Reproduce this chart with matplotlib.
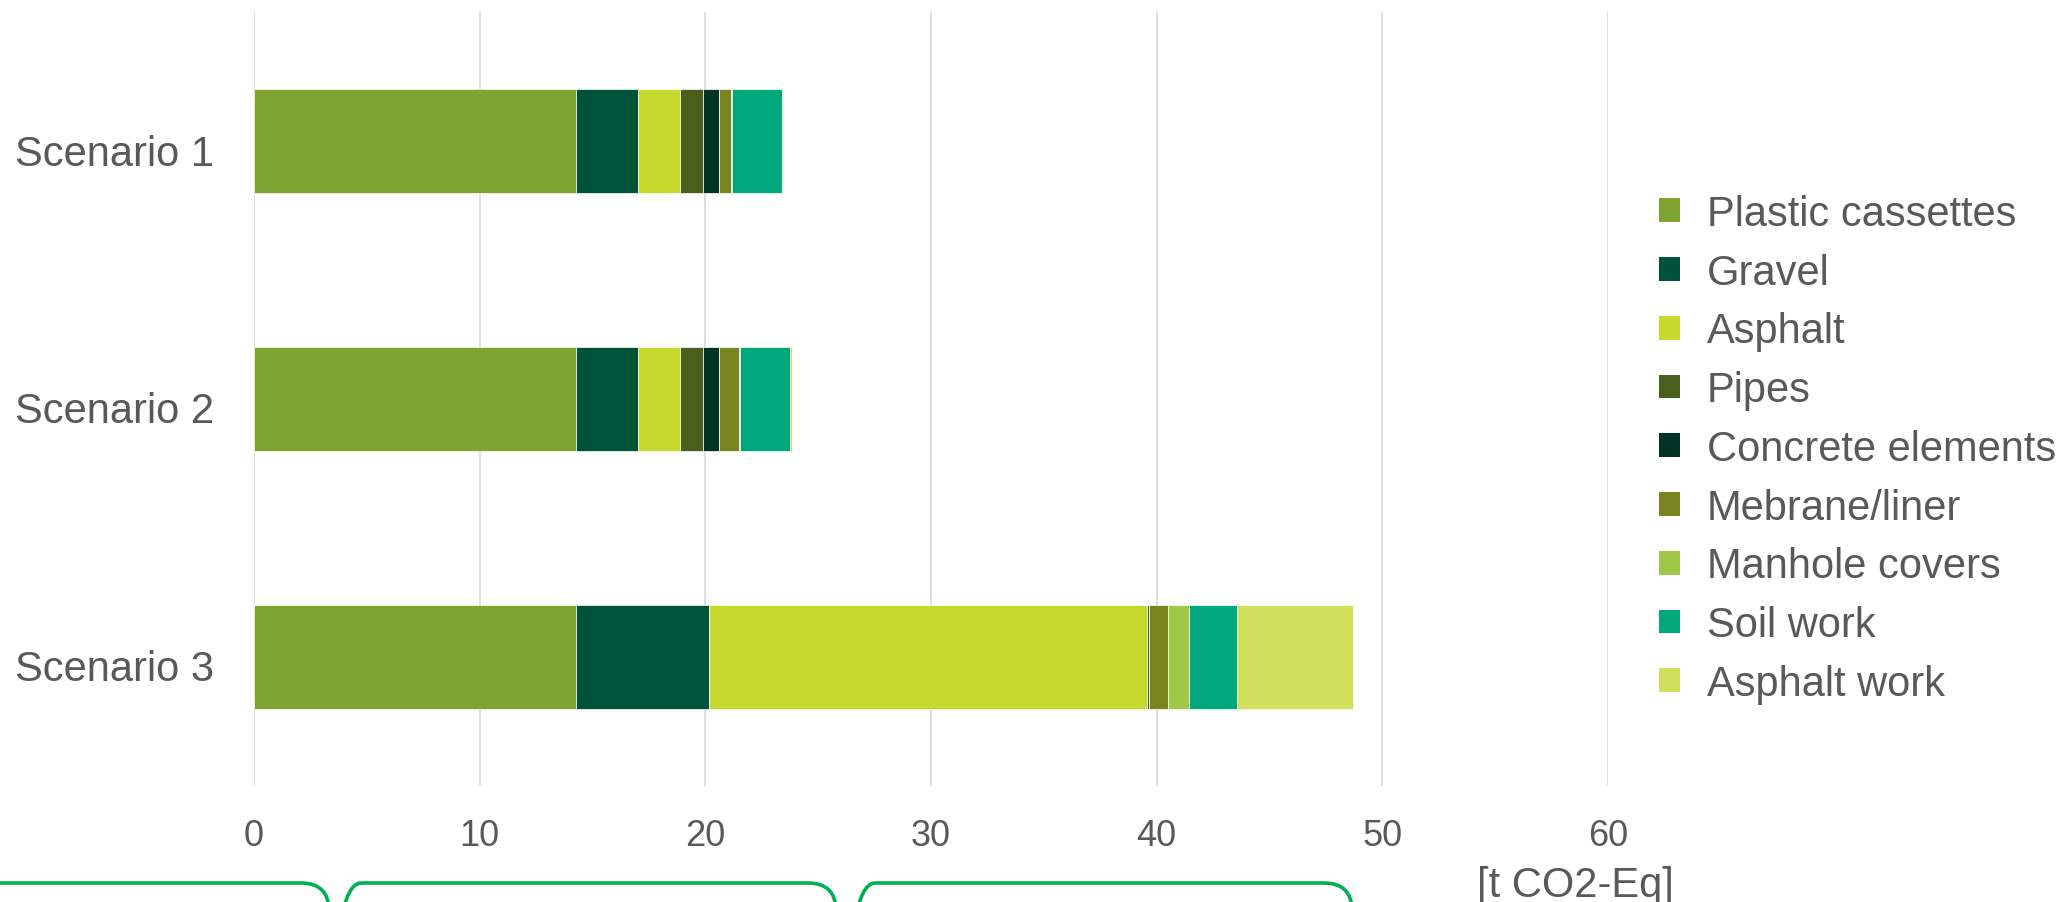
import numpy as np
import matplotlib.pyplot as plt
from matplotlib.patches import Patch, FancyBboxPatch
from matplotlib.transforms import ScaledTranslation

plt.rcParams['font.family'] = ['Liberation Sans', 'DejaVu Sans']

# data (t CO2-Eq per scenario)
scenarios = ['Scenario 1', 'Scenario 2', 'Scenario 3']
components = ['Plastic cassettes', 'Gravel', 'Asphalt', 'Pipes', 'Concrete elements',
              'Mebrane/liner', 'Manhole covers', 'Soil work', 'Asphalt work']
plastic_cassettes = [14.28, 14.28, 14.28]
gravel = [2.75, 2.75, 5.88]
asphalt = [1.83, 1.83, 19.43]
pipes = [1.02, 1.02, 0.05]
concrete_elements = [0.73, 0.73, 0.03]
membrane_liner = [0.51, 0.86, 0.85]
manhole_covers = [0.06, 0.05, 0.91]
soil_work = [2.22, 2.23, 2.13]
asphalt_work = [0.06, 0.07, 5.15]
values = [plastic_cassettes, gravel, asphalt, pipes, concrete_elements,
          membrane_liner, manhole_covers, soil_work, asphalt_work]

colors = ['#7FA330', '#00533B', '#C6D92C', '#4B5F1C', '#003324',
          '#79841E', '#9FC846', '#00A87B', '#D1E05A']
text_grey = '#595959'

W, H = 2068, 903
fig = plt.figure(figsize=(W / 100, H / 100), dpi=100)
ax = fig.add_axes([254 / W, 1 - 787 / H, (1608 - 254) / W, 774 / H])

y = np.arange(len(scenarios))
left = np.zeros(len(scenarios))
for vals, col, name in zip(values, colors, components):
    ax.barh(y, vals, left=left, height=0.4, color=col, edgecolor='white',
            linewidth=0.5, label=name, zorder=3)
    left += np.array(vals)

ax.set_xlim(0, 60)
ax.set_ylim(2.5, -0.5)
ax.set_xticks(np.arange(0, 61, 10))
ax.set_yticks(y)
ax.set_yticklabels(scenarios)
ax.grid(axis='x', color='#d9d9d9', linewidth=1.2, zorder=0)
ax.set_axisbelow(True)
for s in ax.spines.values():
    s.set_visible(False)
ax.tick_params(axis='x', length=0, pad=23, labelsize=26, labelcolor=text_grey)
ax.tick_params(axis='y', length=0, pad=29, labelsize=30, labelcolor=text_grey)
# category labels sit a little below the bar centres
shift = ScaledTranslation(0, -0.08, fig.dpi_scale_trans)
for lab in ax.get_yticklabels():
    lab.set_transform(lab.get_transform() + shift)

fig.text(1575 / W, 1 - 886 / H, '[t CO2-Eq]', ha='center', va='center',
         fontsize=30, color=text_grey)

handles = [Patch(facecolor=c, edgecolor='none') for c in colors]
fig.legend(handles, components, loc='upper left',
           bbox_to_anchor=(1659 / W, 1 - 195 / H), frameon=False,
           fontsize=30, labelcolor=text_grey, handlelength=0.5, handleheight=0.5,
           handletextpad=0.65, labelspacing=0.45, borderpad=0, borderaxespad=0)

# green rounded boxes cut off at the bottom edge
ov = fig.add_axes([0, 0, 1, 1], zorder=-1)
ov.set_xlim(0, W)
ov.set_ylim(H, 0)
ov.axis('off')
for x0, x1 in [(-60, 329), (333, 836), (847, 1352)]:
    ov.add_patch(FancyBboxPatch((x0, 884), x1 - x0, 200,
                                boxstyle='round,pad=0,rounding_size=28',
                                facecolor='none', edgecolor='#00B050', linewidth=2.6))

fig.savefig('out.png', dpi=100)
